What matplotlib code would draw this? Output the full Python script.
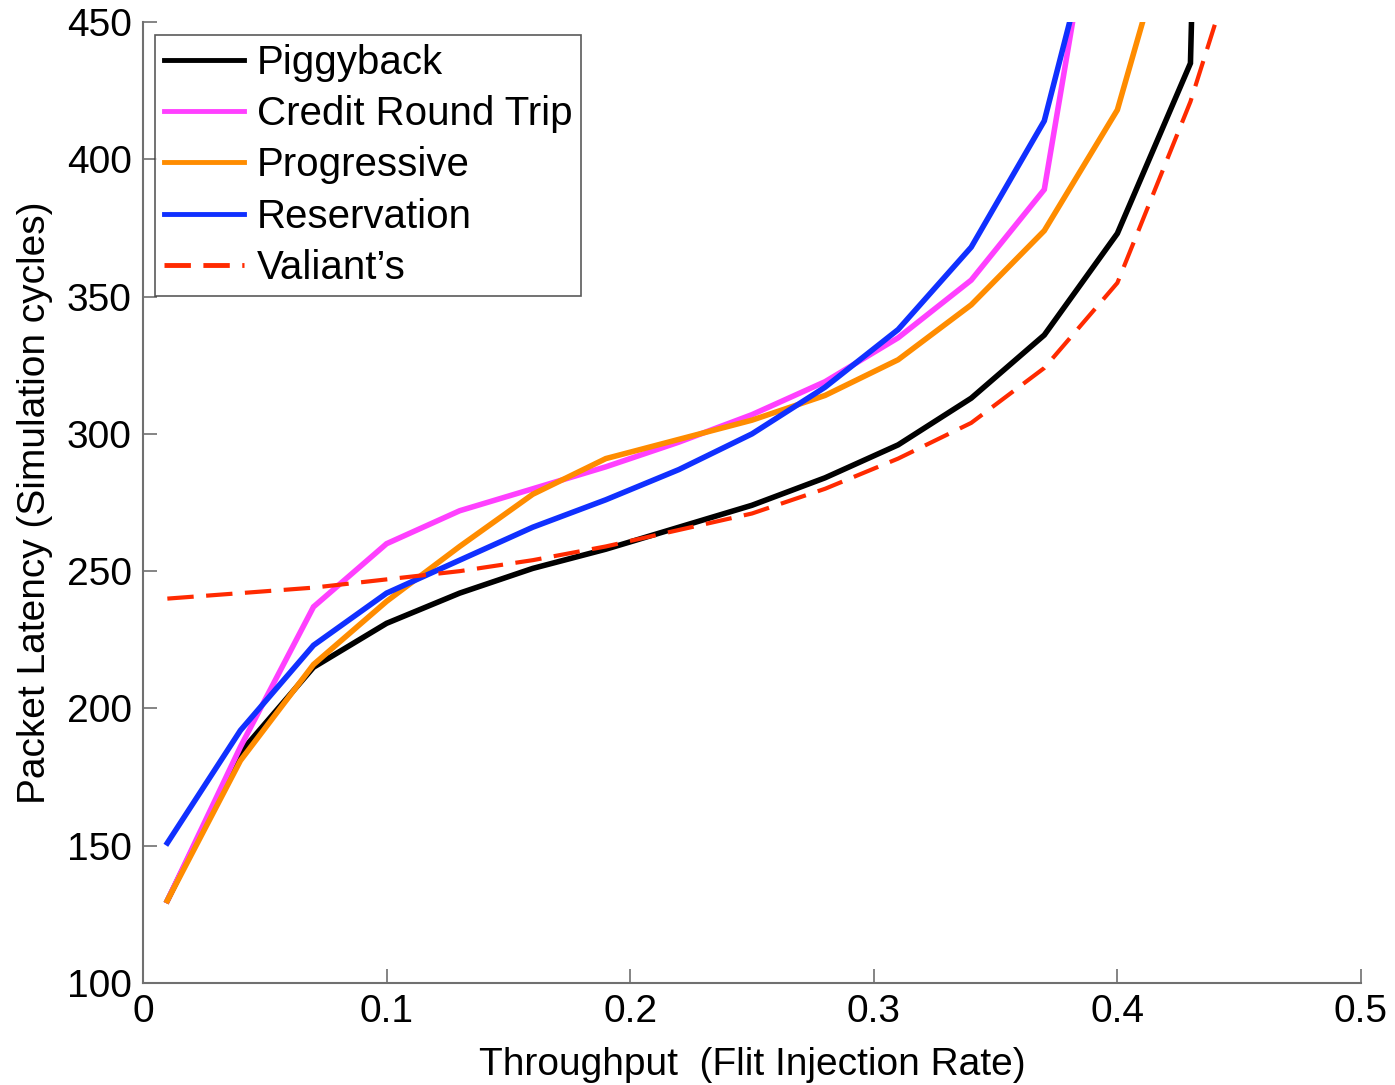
import matplotlib
matplotlib.use("Agg")
import matplotlib.pyplot as plt

plt.rcParams['font.family'] = ['Liberation Sans', 'DejaVu Sans']
plt.rcParams['lines.scale_dashes'] = False

# injection rates sampled for each scheme
x_pig = [0.01, 0.04, 0.07, 0.10, 0.13, 0.16, 0.19, 0.22, 0.25, 0.28, 0.31, 0.34, 0.37, 0.40, 0.43, 0.431]
y_pig = [130, 184, 215, 231, 242, 251, 258, 266, 274, 284, 296, 313, 336, 373, 435, 470]

x_crt = [0.01, 0.04, 0.07, 0.10, 0.13, 0.16, 0.19, 0.22, 0.25, 0.28, 0.31, 0.34, 0.37, 0.382]
y_crt = [130, 186, 237, 260, 272, 280, 288, 297, 307, 319, 335, 356, 389, 452]

x_prog = [0.01, 0.04, 0.07, 0.10, 0.13, 0.16, 0.19, 0.22, 0.25, 0.28, 0.31, 0.34, 0.37, 0.40, 0.411]
y_prog = [130, 181, 216, 239, 259, 278, 291, 298, 305, 314, 327, 347, 374, 418, 452]

x_res = [0.01, 0.04, 0.07, 0.10, 0.13, 0.16, 0.19, 0.22, 0.25, 0.28, 0.31, 0.34, 0.37, 0.381]
y_res = [151, 192, 223, 242, 254, 266, 276, 287, 300, 317, 338, 368, 414, 452]

x_val = [0.01, 0.04, 0.07, 0.10, 0.13, 0.16, 0.19, 0.22, 0.25, 0.28, 0.31, 0.34, 0.37, 0.40, 0.43, 0.44]
y_val = [240, 242, 244, 247, 250, 254, 259, 265, 271, 280, 291, 304, 324, 355, 421, 449]

fig = plt.figure(figsize=(13.95, 10.85), dpi=100)
ax = fig.add_axes([0.1025, 0.094, 0.8731, 0.8857])

lw = 4
ax.plot(x_pig, y_pig, color='black', lw=lw, label='Piggyback', solid_joinstyle='miter')
ax.plot(x_crt, y_crt, color='#ff40ff', lw=lw, label='Credit Round Trip', solid_joinstyle='miter')
ax.plot(x_prog, y_prog, color='#ff8c00', lw=lw, label='Progressive', solid_joinstyle='miter')
ax.plot(x_res, y_res, color='#1030ff', lw=lw, label='Reservation', solid_joinstyle='miter')
ax.plot(x_val, y_val, color='#ff2a00', lw=3, dashes=(19, 9), label='Valiant\u2019s')

ax.set_xlim(0, 0.5)
ax.set_ylim(100, 450)
ax.set_xticks([0, 0.1, 0.2, 0.3, 0.4, 0.5])
ax.set_xticklabels(['0', '0.1', '0.2', '0.3', '0.4', '0.5'])
ax.set_yticks(range(100, 451, 50))

for s in ['top', 'right']:
    ax.spines[s].set_visible(False)
for s in ['left', 'bottom']:
    ax.spines[s].set_color('#707070')
    ax.spines[s].set_linewidth(1.5)
ax.tick_params(direction='in', length=10, width=1.2, color='#707070',
               labelsize=28, pad=8)

ax.set_xlabel('Throughput  (Flit Injection Rate)', fontsize=28, labelpad=12)
ax.set_ylabel('Packet Latency (Simulation cycles)', fontsize=28, labelpad=10)

leg = ax.legend(loc='upper left', bbox_to_anchor=(0.0099, 0.9865), borderaxespad=0,
                fontsize=29, frameon=True, fancybox=False, edgecolor='#303030',
                handlelength=2.0, handletextpad=0.3, labelspacing=0.33,
                borderpad=0.22)
leg.get_frame().set_linewidth(1.2)
for h in leg.get_lines():
    h.set_linewidth(3.5)

fig.savefig('out.png', dpi=100)
